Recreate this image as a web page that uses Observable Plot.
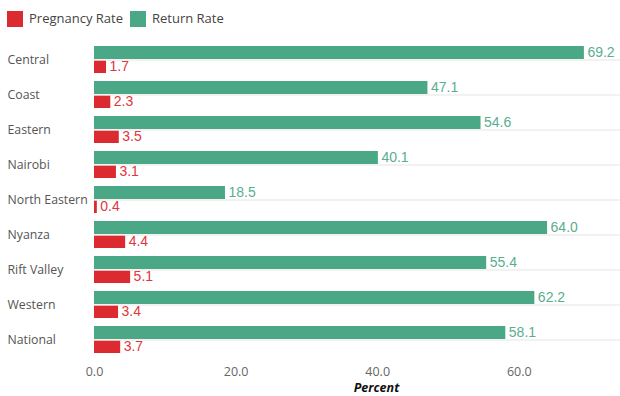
<!DOCTYPE html>
<html>
<head>
<meta charset="utf-8">
<script src="https://cdn.jsdelivr.net/npm/d3@7"></script>
<script src="https://cdn.jsdelivr.net/npm/@observablehq/plot@0.6"></script>
<style>
  html, body { margin: 0; padding: 0; background: #fff; overflow: hidden; }
  body { width: 620px; height: 396px; font-family: "Open Sans", sans-serif; }
  #legend { position: relative; height: 36px; }
  .sw { position: absolute; top: 11px; width: 16px; height: 16px; }
  .lt { position: absolute; top: 9px; font-size: 13px; line-height: 18px; color: #444; white-space: nowrap; }
  #chart svg { display: block; overflow: visible; }
</style>
</head>
<body>
<div id="legend"></div>
<div id="chart"></div>
<script>
const regions = ["Central", "Coast", "Eastern", "Nairobi", "North Eastern", "Nyanza", "Rift Valley", "Western", "National"];
const returnRate = [69.2, 47.1, 54.6, 40.1, 18.5, 64.0, 55.4, 62.2, 58.1];
const pregnancyRate = [1.7, 2.3, 3.5, 3.1, 0.4, 4.4, 5.1, 3.4, 3.7];
const seriesNames = ["Pregnancy Rate", "Return Rate"];
const xTicks = [0, 20, 40, 60];

const RED = "#dc2a31";
const GREEN = "#4ba887";
const RED_TEXT = "#e0363e";
const GREEN_TEXT = "#5aae8f";

// legend
const legend = document.getElementById("legend");
const legendItems = [
  {name: seriesNames[0], color: RED, sx: 7, tx: 29},
  {name: seriesNames[1], color: GREEN, sx: 130, tx: 152}
];
for (const it of legendItems) {
  const s = document.createElement("div");
  s.className = "sw"; s.style.left = it.sx + "px"; s.style.background = it.color;
  legend.appendChild(s);
  const t = document.createElement("div");
  t.className = "lt"; t.style.left = it.tx + "px"; t.textContent = it.name;
  legend.appendChild(t);
}

const data = regions.map((r, i) => ({region: r, ret: returnRate[i], preg: pregnancyRate[i]}));
const fmt = d3.format(".1f");

const chart = Plot.plot({
  width: 620,
  height: 360,
  marginTop: 6,
  marginBottom: 38.3,
  marginLeft: 94,
  marginRight: 0,
  style: {fontFamily: "Open Sans, sans-serif", background: "#fff"},
  x: {domain: [0, 74.3], ticks: xTicks, tickFormat: fmt, label: null},
  y: {domain: regions, padding: 0, axis: null, label: null},
  marks: [
    Plot.ruleY(regions, {y: d => d, x1: 0, x2: 74.3, stroke: "#e6e6e6", strokeWidth: 1.2}),
    Plot.barX(data, {y: "region", x: "ret", fill: GREEN, insetTop: 4, insetBottom: 18}),
    Plot.barX(data, {y: "region", x: "preg", fill: RED, insetTop: 18.7, insetBottom: 4}),
    Plot.text(data, {y: "region", x: "ret", text: d => fmt(d.ret), dx: 3, dy: -7.3, textAnchor: "start", fill: GREEN_TEXT, fontSize: 14, fontFamily: "Liberation Sans, Arial, sans-serif"}),
    Plot.text(data, {y: "region", x: "preg", text: d => fmt(d.preg), dx: 3, dy: 7, textAnchor: "start", fill: RED_TEXT, fontSize: 14, fontFamily: "Liberation Sans, Arial, sans-serif"}),
    Plot.text(regions, {y: d => d, text: d => d, frameAnchor: "left", dx: -87, textAnchor: "start", fill: "#555", fontSize: 12.3}),
    Plot.axisX({ticks: xTicks, tickFormat: fmt, tickSize: 0, tickPadding: 9, fontSize: 12.5, color: "#666", label: null}),
    Plot.text(["Percent"], {frameAnchor: "bottom", lineAnchor: "middle", dx: 19, dy: 29.5, fontWeight: "bold", fontStyle: "italic", fontSize: 12.5, fill: "#111"})
  ]
});
document.getElementById("chart").appendChild(chart);
</script>
</body>
</html>
